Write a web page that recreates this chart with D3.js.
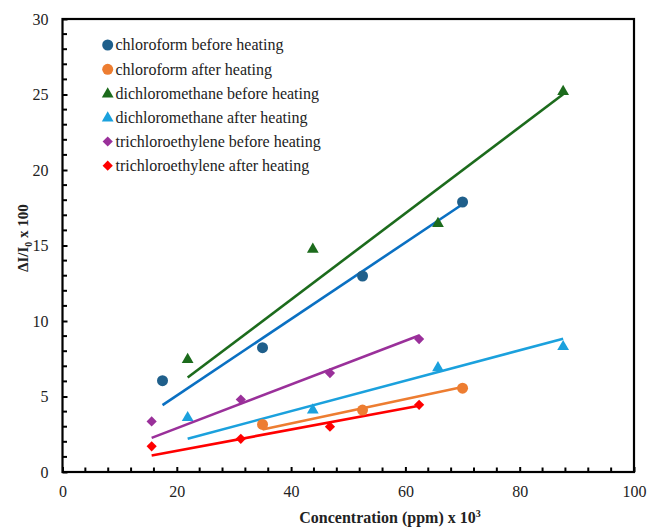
<!DOCTYPE html>
<html><head><meta charset="utf-8">
<script src="https://cdn.jsdelivr.net/npm/d3@7"></script>
</head><body style="margin:0;background:#fff">
<svg id="c" width="651" height="529"></svg>
<script>
// ---- data ----
const seriesNames = ["chloroform before heating","chloroform after heating","dichloromethane before heating","dichloromethane after heating","trichloroethylene before heating","trichloroethylene after heating"];
const chloroformBeforeX = [17.5, 35, 52.5, 70];
const chloroformBeforeY = [6.05, 8.23, 12.98, 17.88];
const chloroformAfterX = [35, 52.5, 70];
const chloroformAfterY = [3.15, 4.1, 5.55];
const dcmBeforeX = [21.9, 43.8, 65.7, 87.6];
const dcmBeforeY = [7.5, 14.8, 16.5, 25.25];
const dcmAfterX = [21.9, 43.8, 65.7, 87.6];
const dcmAfterY = [3.65, 4.15, 6.95, 8.35];
const tceBeforeX = [15.6, 31.2, 46.8, 62.4];
const tceBeforeY = [3.35, 4.8, 6.55, 8.8];
const tceAfterX = [15.6, 31.2, 46.8, 62.4];
const tceAfterY = [1.7, 2.2, 3.0, 4.45];
const xTicks = [0, 20, 40, 60, 80, 100];
const yTicks = [0, 5, 10, 15, 20, 25, 30];

const series = [
  {name: seriesNames[0], xs: chloroformBeforeX, ys: chloroformBeforeY, shape: "circle", mc: "#1f5f8b", lc: "#0a70c2"},
  {name: seriesNames[1], xs: chloroformAfterX, ys: chloroformAfterY, shape: "circle", mc: "#ed7d31", lc: "#ed7d31"},
  {name: seriesNames[2], xs: dcmBeforeX, ys: dcmBeforeY, shape: "triangle", mc: "#1c6b1c", lc: "#1c6b1c"},
  {name: seriesNames[3], xs: dcmAfterX, ys: dcmAfterY, shape: "triangle", mc: "#1ba1dd", lc: "#1ba1dd"},
  {name: seriesNames[4], xs: tceBeforeX, ys: tceBeforeY, shape: "diamond", mc: "#9a309a", lc: "#9a309a"},
  {name: seriesNames[5], xs: tceAfterX, ys: tceAfterY, shape: "diamond", mc: "#ff0000", lc: "#ff0000"}
];

const FONT = '"Liberation Serif"';
const L = 62.5, R = 634, T = 19, B = 472;
const x = d3.scaleLinear().domain([0, 100]).range([L, R]);
const y = d3.scaleLinear().domain([0, 30]).range([B, T]);
const svg = d3.select("#c");

// trendlines (linear, through origin) drawn below markers
series.forEach(s => {
  let sxy = 0, sxx = 0;
  s.xs.forEach((v, i) => { sxy += v * s.ys[i]; sxx += v * v; });
  const k = sxy / sxx;
  const x0 = d3.min(s.xs), x1 = d3.max(s.xs);
  svg.append("line").attr("x1", x(x0)).attr("y1", y(k * x0)).attr("x2", x(x1)).attr("y2", y(k * x1))
    .attr("stroke", s.lc).attr("stroke-width", 2.6);
});

function sym(shape) {
  if (shape === "circle") return d3.symbol(d3.symbolCircle, 95)();
  if (shape === "triangle") return d3.symbol(d3.symbolTriangle, 60)();
  return d3.symbol(d3.symbolSquare, 52)();
}
function drawSym(g, s, cx, cy) {
  const dy = s.shape === "triangle" ? 0.8 : 0;
  const rot = s.shape === "diamond" ? " rotate(45)" : "";
  g.append("path").attr("d", sym(s.shape)).attr("transform", `translate(${cx},${cy + dy})${rot}`).attr("fill", s.mc);
}
series.forEach(s => {
  s.xs.forEach((v, i) => drawSym(svg, s, x(v), y(s.ys[i])));
});

// axes box
svg.append("rect").attr("x", L).attr("y", T).attr("width", R - L).attr("height", B - T)
  .attr("fill", "none").attr("stroke", "#000").attr("stroke-width", 2.2);

// x axis ticks (inward)
const xAxis = d3.axisBottom(x).tickValues(xTicks).tickSize(-5).tickPadding(14).tickFormat(d3.format("d"));
const gx = svg.append("g").attr("transform", `translate(0,${B})`).call(xAxis);
gx.select(".domain").remove();
gx.selectAll(".tick line").attr("stroke", "#000").attr("stroke-width", 2);
gx.selectAll("text").attr("font-size", 16).attr("fill", "#222").style("font-family", FONT);
const xMinor = d3.range(0, 101, 4).filter(v => v > 0 && v < 100 && v % 20 !== 0);
svg.append("g").selectAll("line").data(xMinor).join("line")
  .attr("x1", d => x(d)).attr("x2", d => x(d)).attr("y1", B).attr("y2", B - 4.5)
  .attr("stroke", "#000").attr("stroke-width", 2);

// y axis ticks (inward)
const yAxis = d3.axisLeft(y).tickValues(yTicks).tickSize(-5).tickPadding(14).tickFormat(d3.format("d"));
const gy = svg.append("g").attr("transform", `translate(${L},0)`).call(yAxis);
gy.select(".domain").remove();
gy.selectAll(".tick line").attr("stroke", "#000").attr("stroke-width", 2);
gy.selectAll("text").attr("font-size", 16).attr("fill", "#222").style("font-family", FONT);
const yMinor = d3.range(1, 30).filter(v => v % 5 !== 0);
svg.append("g").selectAll("line").data(yMinor).join("line")
  .attr("x1", L).attr("x2", L + 4.5).attr("y1", d => y(d)).attr("y2", d => y(d))
  .attr("stroke", "#000").attr("stroke-width", 2);

// axis titles
const xt = svg.append("text").attr("x", 390).attr("y", 523).attr("text-anchor", "middle")
  .style("font-family", FONT).attr("font-size", 16).attr("font-weight", "bold").attr("fill", "#222");
xt.append("tspan").text("Concentration (ppm) x 10");
xt.append("tspan").text("3").attr("font-size", 10).attr("dy", -6);

const yt = svg.append("text").attr("transform", "translate(28,238) rotate(-90)").attr("text-anchor", "middle")
  .style("font-family", FONT).attr("font-size", 15).attr("font-weight", "bold").attr("fill", "#222");
yt.append("tspan").text("ΔI/I");
yt.append("tspan").text("0").attr("font-size", 10).attr("dy", 4);
yt.append("tspan").text(" x 100").attr("dy", -4);

// legend
const legY = [45, 69.3, 93.3, 117.3, 141.5, 165.7];
series.forEach((s, i) => {
  drawSym(svg, s, 107.7, legY[i]);
  svg.append("text").attr("x", 115.5).attr("y", legY[i]).attr("dy", "0.33em")
    .style("font-family", FONT).attr("font-size", 16).attr("fill", "#222").text(s.name);
});
</script>
</body></html>
